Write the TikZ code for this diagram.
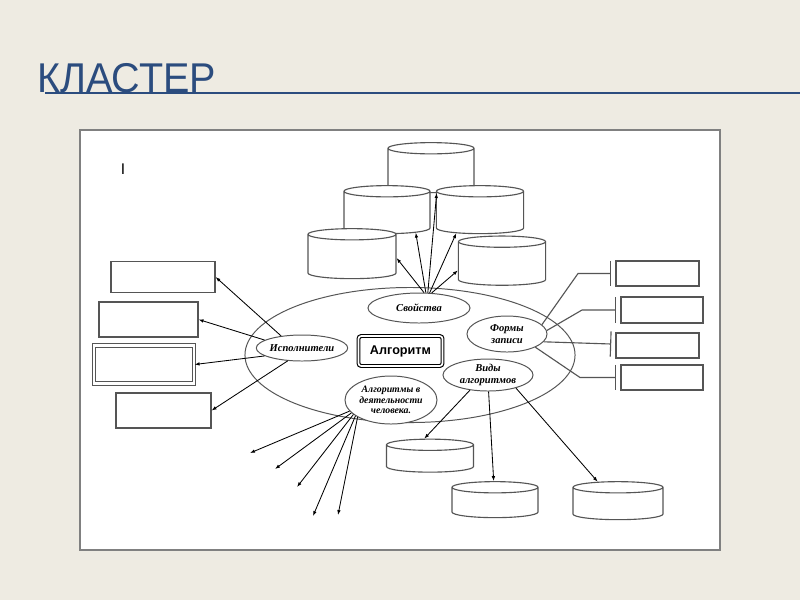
\documentclass[tikz,border=0pt]{standalone}
\usepackage{fontspec}
\setmainfont{Liberation Serif}
\newfontfamily\sansf{Liberation Sans}
\usetikzlibrary{shapes.geometric,arrows.meta}
\definecolor{slidebg}{HTML}{EEEBE2}
\definecolor{titleblue}{HTML}{2B4C7E}
\definecolor{boxgray}{HTML}{555555}
\begin{document}
\begin{tikzpicture}[x=0.025cm, y=-0.025cm,
	baza/.style={cylinder, shape border rotate=90, aspect=1.2, draw=boxgray, fill=white, line width=0.8pt},
	pole/.style={ellipse, draw=boxgray, fill=white, inner sep=0pt, align=center, line width=0.7pt, font=\fontsize{7.5}{8.5}\selectfont\bfseries\itshape},
	yach/.style={rectangle, draw=boxgray, fill=white, line width=0.8pt},
	strel/.style={-{Latex[length=3.5pt,width=2.5pt]}, semithick},
	skoba/.style={-{Bar[width=18pt]}, shorten >=3pt, draw=boxgray, line width=0.8pt}]
\useasboundingbox (0,0) rectangle (800,600);
\fill[slidebg] (0,0) rectangle (800,600);

\node[anchor=base west, inner sep=0pt, text=titleblue, font=\sansf\fontsize{29.6}{30}\selectfont] (title) at (37,92) {\scalebox{0.95}[1]{КЛАСТЕР}};
\draw[titleblue, line width=0.8pt] (45,93) -- (800,93);

\draw[gray, line width=1pt, fill=white] (80,130) rectangle (720,550);
\node[inner sep=0pt, font=\sansf\fontsize{11}{11}\selectfont] (kursor) at (123,169) {I};

\node[baza, minimum width=2.15cm, minimum height=1.25cm] (sv1) at (431,172) {};
\node[baza, minimum width=2.15cm, minimum height=1.2cm] (sv2) at (387,214) {};
\node[baza, minimum width=2.18cm, minimum height=1.2cm] (sv3) at (480,214) {};
\node[baza, minimum width=2.2cm, minimum height=1.25cm] (sv4) at (352,258) {};
\node[baza, minimum width=2.18cm, minimum height=1.23cm] (sv5) at (502,265) {};

\node[ellipse, draw=boxgray, line width=0.7pt, minimum width=8.25cm, minimum height=3.375cm] (klaster) at (410,355) {};

\node[yach, minimum width=2.6cm, minimum height=0.775cm] (is1) at (163,277) {};
\node[yach, minimum width=2.475cm, minimum height=0.875cm] (is2) at (148.5,319.5) {};
\node[yach, double=white, double distance=1.5pt, minimum width=2.5cm, minimum height=0.95cm] (is3) at (144,364.5) {};
\node[yach, minimum width=2.375cm, minimum height=0.875cm] (is4) at (163.5,410.5) {};

\node[yach, minimum width=2.075cm, minimum height=0.625cm] (fz1) at (657.5,273.5) {};
\node[yach, minimum width=2.05cm, minimum height=0.65cm] (fz2) at (662,310) {};
\node[yach, minimum width=2.075cm, minimum height=0.625cm] (fz3) at (657.5,345.5) {};
\node[yach, minimum width=2.05cm, minimum height=0.625cm] (fz4) at (662,377.5) {};

\node[baza, minimum width=2.175cm, minimum height=0.825cm] (vd1) at (430,460) {};
\node[baza, minimum width=2.15cm, minimum height=0.9cm] (vd2) at (495,504) {};
\node[baza, minimum width=2.25cm, minimum height=0.95cm] (vd3) at (618,505) {};

\node[pole, minimum width=2.55cm, minimum height=0.75cm] (sv) at (419,308) {Свойства};
\node[pole, minimum width=2.2cm, minimum height=0.65cm] (isp) at (302,348) {Исполнители};
\node[pole, minimum width=2cm, minimum height=0.9cm] (fz) at (507,334) {Формы\\записи};
\node[pole, minimum width=2.25cm, minimum height=0.8cm, font=\fontsize{7.5}{9}\selectfont\bfseries\itshape] (vd) at (488,375) {Виды\\алгоритмов};
\node[pole, minimum width=2.3cm, minimum height=1.2cm, font=\fontsize{7}{7.5}\selectfont\bfseries\itshape] (ad) at (391,400) {Алгоритмы в\\деятельности\\человека.};
\node[draw, double, double distance=1.2pt, line width=0.8pt, rounded corners=2pt, minimum width=2.1cm, minimum height=0.75cm, font=\sansf\bfseries\fontsize{9}{10}\selectfont] (alg) at (400.5,351) {Алгоритм};

\draw[strel] (sv.72) -- (sv4.east);
\draw[strel] (sv.66) -- (sv2.-33);
\draw[strel] (sv.60) -- (sv1.-75);
\draw[strel] (sv.55) -- (sv3.-141);
\draw[strel] (sv.50) -- (sv5.187);

\draw[strel] (isp.150) -- (is1.east);
\draw[strel] (isp.168) -- (is2.east);
\draw[strel] (isp.192) -- (is3.east);
\draw[strel] (isp.222) -- (is4.east);

\coordinate (k1) at (578,273.5);
\coordinate (k2) at (582,310);
\coordinate (k4) at (580,377.5);
\draw[skoba] (fz.15) -- (k1) -- (fz1);
\draw[skoba] (fz.5) -- (k2) -- (fz2);
\draw[skoba] (fz.-12) -- (fz3);
\draw[skoba] (fz.-25) -- (k4) -- (fz4);

\draw[strel] (vd.220) -- (vd1.105);
\draw[strel] (vd.272) -- (vd2);
\draw[strel] (vd.-25) -- (vd3);

\foreach \n/\x/\y/\a in {1/250/453/195, 2/275/469/198, 3/297/487/201, 4/313/516/204, 5/338/515/207}
{
	\coordinate (kon\n) at (\x,\y);
	\draw[strel] (ad.\a) -- (kon\n);
}
\end{tikzpicture}
\end{document}
